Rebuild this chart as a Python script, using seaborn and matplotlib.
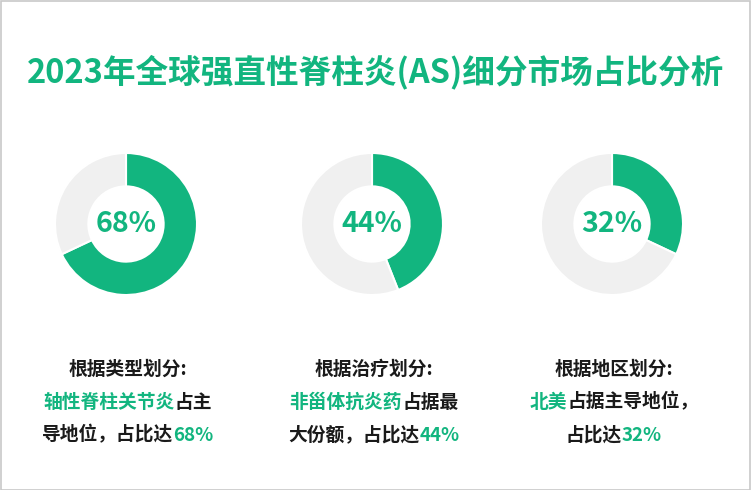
import seaborn as sns
import matplotlib.pyplot as plt
from matplotlib.patches import Rectangle
from matplotlib.font_manager import FontProperties

# dati
share = [68, 44, 32]
pct_labels = ['68%', '44%', '32%']
head_lines = ['根据类型划分:', '根据治疗划分:', '根据地区划分:']
body_lines = [
    [[('轴性脊柱关节炎', 'g'), ('占主', 'k')], [('导地位，占比达', 'k'), ('68%', 'g')]],
    [[('非甾体抗炎药', 'g'), ('占据最', 'k')], [('大份额，占比达', 'k'), ('44%', 'g')]],
    [[('北美', 'g'), ('占据主导地位，', 'k')], [('占比达', 'k'), ('32%', 'g')]],
]
title = '2023年全球强直性脊柱炎(AS)细分市场占比分析'

sns.set_style('white')
plt.rcParams['font.family'] = ['Noto Sans CJK SC', 'DejaVu Sans']

GREEN = '#12b57f'
GREY = '#f0f0f0'
W, H = 752, 490
colors = {'g': GREEN, 'k': '#1a1a1a'}
FS = 13.5

fig = plt.figure(figsize=(W / 100, H / 100), dpi=100)
fig.patch.set_facecolor('white')
fig.patches.append(Rectangle((0.001, 0.001), 0.997, 0.997, transform=fig.transFigure,
                             fill=False, edgecolor='#c8c8c8', linewidth=1.2))

fig.text(0.5, 1 - 72 / H, title, ha='center', va='center', fontsize=23.5,
         fontweight='bold', color=GREEN)

centers = [126, 372, 612]
cy = 224
R = 71
for i, cx in enumerate(centers):
    ax = fig.add_axes([(cx - R) / W, (H - cy - R) / H, 2 * R / W, 2 * R / H])
    ax.pie([share[i], 100 - share[i]], colors=[GREEN, GREY], startangle=90,
           counterclock=False, radius=1,
           wedgeprops=dict(width=0.47, edgecolor='white', linewidth=1.5))
    ax.set_xlim(-1, 1)
    ax.set_ylim(-1, 1)
    ax.text(0, 0, pct_labels[i], ha='center', va='center', fontsize=20.5,
            fontweight='bold', color=GREEN)

renderer = fig.canvas.get_renderer()
prop = FontProperties(family='Noto Sans CJK SC', weight='bold', size=FS)


def text_w(s):
    return renderer.get_text_width_height_descent(s, prop, ismath=False)[0]


def advance(s):
    # larghezza di avanzamento: differenza con un carattere di riferimento
    return text_w(s + '口') - text_w('口')


def draw_line(parts, cx, y):
    widths = [advance(s) for s, c in parts]
    x = cx - sum(widths) / 2
    for (s, c), w in zip(parts, widths):
        fig.text(x / W, 1 - y / H, s, color=colors[c], fontproperties=prop,
                 va='center', ha='left')
        x += w


for i, cx in enumerate(centers):
    draw_line([(head_lines[i], 'k')], cx + 2, 369)
    draw_line(body_lines[i][0], cx + 2, 402)
    draw_line(body_lines[i][1], cx + 2, 435)

fig.savefig('out.png', dpi=100)
